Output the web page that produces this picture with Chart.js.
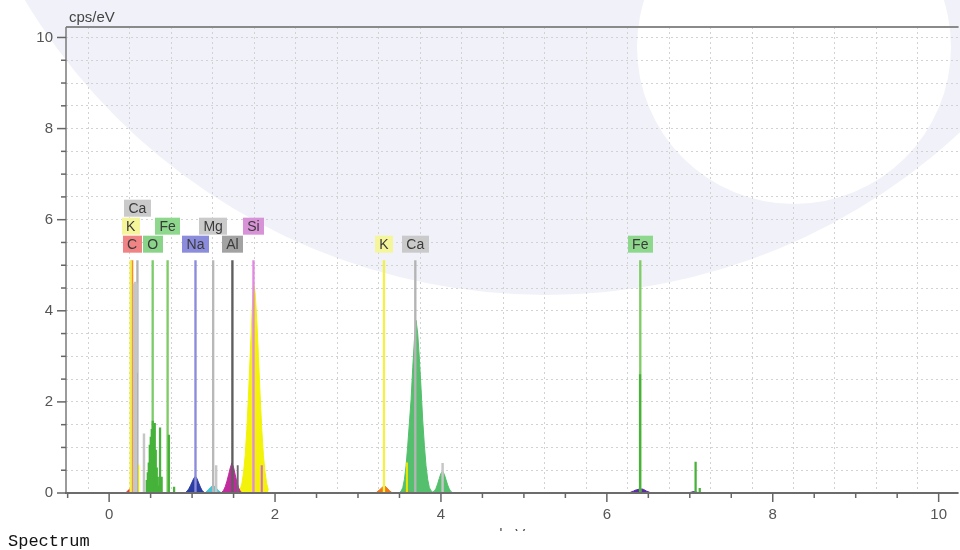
<!DOCTYPE html>
<html>
<head>
<meta charset="utf-8">
<script src="https://cdn.jsdelivr.net/npm/chart.js@4.4.1/dist/chart.umd.min.js"></script>
<style>
  html, body { margin: 0; padding: 0; background: #fff; }
  #wrap { position: relative; width: 960px; height: 550px; overflow: hidden; }
  #c { position: absolute; left: 0; top: 0; }
  #caption { position: absolute; left: 8px; top: 532px; font: 17px "Liberation Mono", "DejaVu Sans Mono", monospace; color: #111; }
</style>
</head>
<body>
<div id="wrap">
  <canvas id="c" width="960" height="550"></canvas>
  <div id="caption">Spectrum</div>
</div>
<script>
// ---- axis labels ----
const xTickLabels = [0, 2, 4, 6, 8, 10];
const yTickLabels = [0, 2, 4, 6, 8, 10];

// ---- fitted element peaks: energy (keV) / intensity (cps/eV) ----
const cKeV  = [0.21, 0.23, 0.25, 0.27, 0.29, 0.31];
const cCps  = [0.02, 0.06, 0.09, 0.08, 0.04, 0.01];

const naKeV = [0.92, 0.94, 0.96, 0.98, 1.00, 1.02, 1.04, 1.06, 1.08, 1.10, 1.12, 1.14, 1.16];
const naCps = [0.01, 0.04, 0.09, 0.16, 0.24, 0.32, 0.37, 0.31, 0.22, 0.13, 0.06, 0.02, 0.00];

const mgKeV = [1.16, 1.18, 1.20, 1.22, 1.24, 1.26, 1.28, 1.30, 1.32, 1.34, 1.36];
const mgCps = [0.01, 0.04, 0.08, 0.12, 0.15, 0.16, 0.13, 0.09, 0.05, 0.02, 0.00];

const alKeV = [1.36, 1.38, 1.40, 1.42, 1.44, 1.46, 1.48, 1.50, 1.52, 1.54, 1.56, 1.58, 1.60];
const alCps = [0.02, 0.06, 0.14, 0.26, 0.40, 0.55, 0.66, 0.56, 0.40, 0.24, 0.12, 0.04, 0.01];

const siKeV = [1.56, 1.58, 1.60, 1.62, 1.64, 1.66, 1.68, 1.70, 1.72, 1.74, 1.76, 1.78, 1.80, 1.82, 1.84, 1.86, 1.88, 1.90, 1.92];
const siCps = [0.03, 0.08, 0.20, 0.44, 0.82, 1.40, 2.15, 3.00, 3.85, 4.63, 4.40, 3.80, 3.00, 2.15, 1.40, 0.82, 0.45, 0.20, 0.06];

const kKeV  = [3.22, 3.24, 3.26, 3.28, 3.30, 3.32, 3.34, 3.36, 3.38, 3.40, 3.42, 3.54, 3.56, 3.58, 3.60, 3.62, 3.64];
const kCps  = [0.01, 0.04, 0.07, 0.10, 0.14, 0.16, 0.13, 0.09, 0.05, 0.02, 0.00, 0.00, 0.02, 0.03, 0.03, 0.02, 0.00];

const caKeV = [3.50, 3.52, 3.54, 3.56, 3.58, 3.60, 3.62, 3.64, 3.66, 3.68, 3.70, 3.72, 3.74, 3.76, 3.78, 3.80, 3.82,
               3.84, 3.86, 3.88, 3.90, 3.92, 3.94, 3.96, 3.98, 4.00, 4.02, 4.04, 4.06, 4.08, 4.10, 4.12, 4.14];
const caCps = [0.01, 0.04, 0.12, 0.30, 0.60, 1.05, 1.55, 2.05, 2.75, 3.35, 3.79, 3.50, 2.95, 2.30, 1.60, 1.05, 0.60,
               0.30, 0.12, 0.05, 0.02, 0.04, 0.10, 0.20, 0.32, 0.43, 0.48, 0.41, 0.30, 0.18, 0.09, 0.03, 0.01];

const feKeV = [6.28, 6.30, 6.32, 6.34, 6.36, 6.38, 6.40, 6.42, 6.44, 6.46, 6.48, 6.50, 6.52, 6.54,
               6.98, 7.00, 7.02, 7.04, 7.06, 7.08, 7.10, 7.12];
const feCps = [0.01, 0.03, 0.04, 0.06, 0.07, 0.08, 0.09, 0.09, 0.08, 0.06, 0.04, 0.03, 0.01, 0.00,
               0.00, 0.01, 0.02, 0.03, 0.03, 0.02, 0.01, 0.00];

// ---- single-channel spikes ----
const greenKeV = [0.454, 0.466, 0.478, 0.490, 0.502, 0.514, 0.526, 0.538, 0.550, 0.562, 0.574, 0.586, 0.598,
                  0.614, 0.633, 0.720, 0.783, 6.400, 7.070, 7.120];
const greenCps = [0.28, 0.45, 0.66, 1.05, 1.23, 1.40, 1.58, 1.45, 1.53, 0.94, 0.55, 0.35, 0.15,
                  1.43, 0.35, 1.27, 0.13, 2.60, 0.68, 0.10];
const lightGrayKeV = [0.300, 0.315, 0.330, 0.420, 1.290, 4.020];
const lightGrayCps = [4.60, 4.63, 4.60, 1.30, 0.60, 0.65];
const darkGrayKeV = [0.335, 1.550];
const darkGrayCps = [2.63, 0.60];
const yellowKeV = [0.350, 3.590];
const yellowCps = [0.61, 0.66];
const pinkKeV = [1.840];
const pinkCps = [0.60];

// ---- element line markers ----
const markerSymbol = ['C', 'O', 'Na', 'Mg', 'Al', 'Si', 'K', 'K', 'Ca', 'Ca', 'Fe', 'Fe'];
const markerKeV    = [0.277, 0.525, 1.041, 1.254, 1.486, 1.740, 0.260, 3.313, 0.341, 3.691, 0.705, 6.403];
const markerTop    = 5.1;

// ---- styling / layout ----
const markerTier = [0, 0, 0, 1, 0, 1, 1, 0, 2, 0, 1, 0];
const lineColor = { C: '#ff8a1e', O: '#7ccc6c', Na: '#8c8cdc', Mg: '#b8b8b8', Al: '#5e5e5e',
                    Si: '#e08ae0', K: '#f2f04a', Ca: '#b4b4b4', Fe: '#80cc66' };
const boxColor  = { C: '#f08484', O: '#8ad48a', Na: '#8c8cdc', Mg: '#cacaca', Al: '#a2a2a2',
                    Si: '#d892d8', K: '#f5f59c', Ca: '#cacaca', Fe: '#8ed88e' };
const FONT = '"Liberation Sans", Arial, sans-serif';

const pts = (k, v) => k.map((e, i) => ({ x: e, y: v[i] }));
const peak = (k, v, color) => ({
  type: 'line', data: pts(k, v), backgroundColor: color, borderColor: color,
  borderWidth: 1, pointRadius: 0, fill: 'origin', tension: 0, order: 3
});
const spikes = (k, v, color, w) => ({
  type: 'bar', data: pts(k, v), backgroundColor: color, borderWidth: 0,
  barThickness: w, grouped: false, order: 1
});

const datasets = [
  peak(cKeV, cCps, '#e23c3c'),
  peak(naKeV, naCps, '#2c3ca0'),
  peak(mgKeV, mgCps, '#44c6d6'),
  peak(alKeV, alCps, '#c02c9c'),
  peak(siKeV, siCps, '#f2f20a'),
  peak(kKeV, kCps, '#f07814'),
  peak(caKeV, caCps, '#54bf6c'),
  peak(feKeV, feCps, '#5a2ca0'),
  {
    type: 'bar', data: markerKeV.map(e => ({ x: e, y: markerTop })),
    backgroundColor: markerSymbol.map(s => lineColor[s]), borderWidth: 0,
    barThickness: 1.7, grouped: false, order: 2
  },
  spikes(greenKeV, greenCps, '#46b23a', 1.6),
  spikes(lightGrayKeV, lightGrayCps, '#c6c6c6', 1.8),
  spikes(darkGrayKeV, darkGrayCps, '#6a6a6a', 1.2),
  spikes(yellowKeV, yellowCps, '#e6e600', 1.4),
  spikes(pinkKeV, pinkCps, '#d46ad0', 1.4)
];
const MARKER_DS = 8;

const isLabelled = (v, list) => list.some(t => Math.abs(t - v) < 1e-6);

// faint logo behind the plot: a broad arc band around an open centre
const backdrop = {
  id: 'backdrop',
  beforeDraw(chart) {
    const ctx = chart.ctx;
    ctx.save();
    ctx.fillStyle = '#ffffff';
    ctx.fillRect(0, 0, chart.width, chart.height);
    ctx.fillStyle = '#f1f2f9';
    ctx.beginPath();
    ctx.arc(546, -313, 608, 0, Math.PI * 2);
    ctx.arc(794, 47, 157, 0, Math.PI * 2, true);
    ctx.fill('evenodd');
    ctx.restore();
  }
};

// frame, tick marks, element labels and axis titles
const decorations = {
  id: 'decorations',
  afterDatasetsDraw(chart) {
    const ctx = chart.ctx;
    const { left, right, top, bottom } = chart.chartArea;
    const xs = chart.scales.x, ys = chart.scales.y;
    ctx.save();

    // frame
    ctx.lineCap = 'butt';
    ctx.strokeStyle = '#8a8a8a'; ctx.lineWidth = 2;
    ctx.beginPath(); ctx.moveTo(left, top); ctx.lineTo(right, top); ctx.stroke();
    ctx.strokeStyle = '#7a7a7a'; ctx.lineWidth = 1.5;
    ctx.beginPath(); ctx.moveTo(left, top); ctx.lineTo(left, bottom); ctx.stroke();
    ctx.strokeStyle = '#6c6c6c'; ctx.lineWidth = 2;
    ctx.beginPath(); ctx.moveTo(left - 1, bottom); ctx.lineTo(right, bottom); ctx.stroke();

    // tick marks
    ctx.strokeStyle = '#666'; ctx.lineWidth = 1.5;
    xs.ticks.forEach(t => {
      const px = xs.getPixelForValue(t.value);
      const len = isLabelled(t.value, xTickLabels) ? 9 : 5;
      ctx.beginPath(); ctx.moveTo(px, bottom); ctx.lineTo(px, bottom + len); ctx.stroke();
    });
    ys.ticks.forEach(t => {
      const py = ys.getPixelForValue(t.value);
      const len = isLabelled(t.value, yTickLabels) ? 9 : 5;
      ctx.beginPath(); ctx.moveTo(left, py); ctx.lineTo(left - len, py); ctx.stroke();
    });

    // element labels stacked above their marker lines
    const meta = chart.getDatasetMeta(MARKER_DS);
    ctx.font = '14px ' + FONT;
    ctx.textAlign = 'center';
    ctx.textBaseline = 'middle';
    const boxH = 17, gap = 1;
    meta.data.forEach((bar, i) => {
      const sym = markerSymbol[i];
      const w = ctx.measureText(sym).width + 9;
      const boxBottom = bar.y - 8 - markerTier[i] * (boxH + gap);
      const x0 = Math.round(bar.x - w / 2);
      ctx.fillStyle = boxColor[sym];
      ctx.fillRect(x0, boxBottom - boxH, Math.round(w), boxH);
      ctx.fillStyle = '#3a3a3a';
      ctx.fillText(sym, bar.x, boxBottom - boxH / 2 + 0.5);
    });

    // axis titles
    ctx.fillStyle = '#444';
    ctx.font = '15px ' + FONT;
    ctx.textAlign = 'left';
    ctx.textBaseline = 'alphabetic';
    ctx.fillText('cps/eV', 69, 22);
    ctx.beginPath();
    ctx.rect(0, 0, chart.width, 531);
    ctx.clip();
    ctx.textAlign = 'center';
    ctx.fillStyle = '#555';
    ctx.fillText('keV', (left + right) / 2, 539);
    ctx.restore();
  }
};

new Chart(document.getElementById('c'), {
  type: 'line',
  data: { datasets },
  options: {
    responsive: false,
    animation: false,
    events: [],
    layout: { padding: { top: 27, right: 0, bottom: 0, left: 0 } },
    plugins: { legend: { display: false }, tooltip: { enabled: false } },
    scales: {
      x: {
        type: 'linear', min: -0.52, max: 10.24, offset: false,
        ticks: {
          stepSize: 0.5, includeBounds: false, autoSkip: false, maxRotation: 0,
          padding: 13, color: '#555', font: { family: FONT, size: 15 },
          callback: v => isLabelled(v, xTickLabels) ? String(Math.round(v)) : ''
        },
        grid: { color: '#d2d2d2', lineWidth: 1, drawTicks: false },
        border: { display: false, dash: [2, 3] },
        afterFit: s => { s.height = 57; }
      },
      y: {
        type: 'linear', min: 0, max: 10.23,
        ticks: {
          stepSize: 0.5, includeBounds: false, autoSkip: false,
          padding: 13, color: '#555', font: { family: FONT, size: 15 },
          callback: v => isLabelled(v, yTickLabels) ? String(Math.round(v)) : ''
        },
        grid: { color: '#d2d2d2', lineWidth: 1, drawTicks: false },
        border: { display: false, dash: [2, 3] },
        afterFit: s => { s.width = 66; }
      }
    }
  },
  plugins: [backdrop, decorations]
});
</script>
</body>
</html>
